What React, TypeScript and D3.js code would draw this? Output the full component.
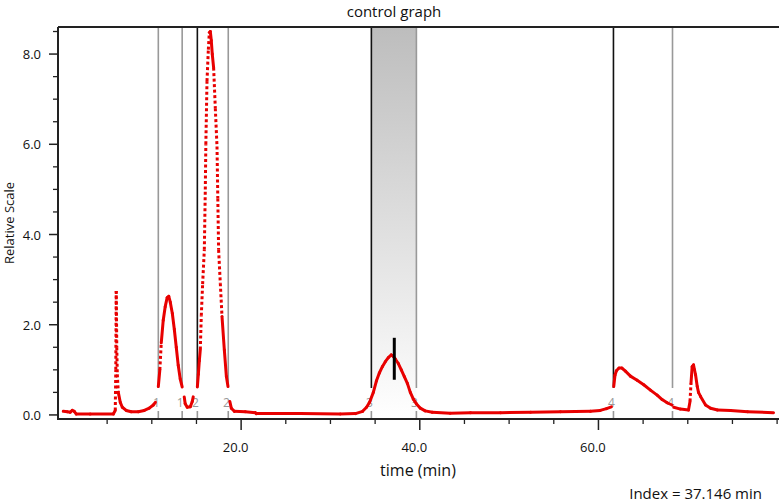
import React from "react";
import * as d3 from "d3";

const W = 779;
const H = 502;

// trace segments: [time (min), relative scale]
const SEG_A: [number, number][] = [
  [0.09, 0.08], [0.54, 0.07], [0.87, 0.06], [1.1, 0.1], [1.32, 0.08], [1.55, 0.02],
  [3.1, 0.02], [5.69, 0.02], [5.91, 0.1], [5.97, 1.0], [6.02, 2.75], [6.08, 1.5],
  [6.14, 0.9], [6.25, 0.5], [6.47, 0.28], [6.7, 0.17], [7.14, 0.1], [7.7, 0.07],
  [8.49, 0.07], [9.16, 0.1], [9.72, 0.15], [10.17, 0.22], [10.4, 0.28],
];
const SEG_B: [number, number][] = [
  [10.73, 0.63], [10.9, 1.0], [11.06, 1.6], [11.28, 2.1], [11.5, 2.4], [11.72, 2.6],
  [11.9, 2.63], [12.07, 2.5], [12.3, 2.25], [12.52, 1.9], [12.74, 1.5], [12.96, 1.1],
  [13.18, 0.8], [13.4, 0.62],
];
const SEG_C: [number, number][] = [
  [13.63, 0.4], [13.74, 0.25], [13.97, 0.17], [14.31, 0.18], [14.53, 0.3], [14.64, 0.4],
];
const SEG_D: [number, number][] = [
  [15.1, 0.62], [15.21, 0.9], [15.32, 1.2], [15.43, 1.45], [15.54, 2.2], [15.69, 2.9],
  [15.88, 3.66], [15.99, 5.0], [16.05, 6.0], [16.18, 7.4], [16.33, 8.1], [16.44, 8.48],
  [16.55, 8.5], [16.66, 8.3], [16.77, 8.0], [16.92, 7.7], [17.11, 6.8], [17.3, 5.95],
  [17.39, 4.8], [17.48, 3.66], [17.67, 2.92], [17.86, 2.18], [18.12, 1.44], [18.35, 0.85],
  [18.53, 0.63],
];
const SEG_E: [number, number][] = [
  [18.73, 0.3], [18.9, 0.15], [19.24, 0.08], [20.47, 0.07], [21.6, 0.05], [21.7, 0.03],
  [26.6, 0.03], [31.1, 0.02], [32.8, 0.03], [33.6, 0.08], [34.04, 0.17], [34.38, 0.28],
  [34.8, 0.5], [35.14, 0.75], [35.47, 0.93], [35.81, 1.07], [36.14, 1.18], [36.48, 1.27],
  [36.81, 1.33], [37.03, 1.3], [37.26, 1.24], [37.6, 1.14], [37.93, 1.0], [38.27, 0.85],
  [38.61, 0.7], [38.94, 0.5], [39.28, 0.35], [39.61, 0.25], [40.06, 0.15], [40.6, 0.09],
  [41.4, 0.06], [43.4, 0.04], [45.67, 0.05], [49.03, 0.05], [52.4, 0.06], [55.74, 0.07],
  [59.1, 0.08], [60.2, 0.1], [60.9, 0.14], [61.45, 0.18],
];
const SEG_G: [number, number][] = [
  [61.71, 0.63], [61.85, 0.88], [62.01, 0.98], [62.3, 1.04], [62.63, 1.04], [63.02, 0.97],
  [63.58, 0.86], [64.33, 0.77], [65.07, 0.67], [65.82, 0.55], [66.57, 0.44], [67.13, 0.34],
  [67.69, 0.27], [68.23, 0.22],
];
const SEG_H: [number, number][] = [
  [68.43, 0.17], [69.18, 0.13], [70.08, 0.11], [70.25, 0.3], [70.36, 0.7], [70.49, 1.07],
  [70.64, 1.11], [70.75, 1.0], [70.87, 0.89], [71.06, 0.63], [71.2, 0.5], [71.43, 0.41],
  [71.99, 0.22], [72.55, 0.15], [73.33, 0.11], [74.79, 0.1], [76.69, 0.07], [79.6, 0.05],
];
const SEGMENTS = [SEG_A, SEG_B, SEG_C, SEG_D, SEG_E, SEG_G, SEG_H];

const MARKER_TIMES = [10.73, 13.4, 15.1, 18.56, 34.58, 39.62, 61.68, 68.29];
const MARKER_LABELS = ["1", "1", "2", "2", "3", "3", "4", "4"];
const MARKER_DARK = [false, false, true, false, true, false, true, false];
const SHADE_FROM = 34.58;
const SHADE_TO = 39.62;

const INDEX_TIME = 37.146;
const INDEX_LOW = 0.78;
const INDEX_HIGH = 1.71;

const X_LABEL_TICKS = [20, 40, 60];
const X_MINOR_TICKS = [5, 10, 15, 25, 30, 35, 45, 50, 55, 65, 70, 75, 80];
const Y_LABEL_TICKS = [0, 2, 4, 6, 8];
const Y_MINOR_TICKS = [0.5, 1, 1.5, 2.5, 3, 3.5, 4.5, 5, 5.5, 6.5, 7, 7.5, 8.5];

const FONT = "'Open Sans', 'DejaVu Sans', sans-serif";
const RED = "#e80000";

export default function App() {
  const left = 58, right = 778, top = 27, bottom = 419;
  const x = d3.scaleLinear().domain([-0.5, 80.1]).range([left, right]);
  const y = d3.scaleLinear().domain([-0.09, 8.6]).range([bottom, top]);
  const fmt = d3.format(".1f");

  const pieces: JSX.Element[] = [];
  SEGMENTS.forEach((seg, si) => {
    for (let i = 1; i < seg.length; i++) {
      const x1 = x(seg[i - 1][0]), y1 = y(seg[i - 1][1]);
      const x2 = x(seg[i][0]), y2 = y(seg[i][1]);
      const steep = Math.abs(y2 - y1) > 15 * Math.abs(x2 - x1) && Math.abs(y2 - y1) > 6;
      pieces.push(
        <line
          key={`${si}-${i}`}
          x1={x1} y1={y1} x2={x2} y2={y2}
          stroke={RED}
          strokeWidth={3}
          strokeLinecap={steep ? "butt" : "round"}
          strokeDasharray={steep ? "3 2.5" : undefined}
        />
      );
    }
  });

  return (
    <svg
      width={W}
      height={H}
      style={{ position: "absolute", left: 0, top: 0, background: "#fff" }}
      fontFamily={FONT}
    >
      <defs>
        <linearGradient id="shade" x1="0" y1="0" x2="0" y2="1">
          <stop offset="0%" stopColor="#bdbdbd" />
          <stop offset="100%" stopColor="#ffffff" />
        </linearGradient>
      </defs>
      <rect width={W} height={H} fill="#fff" />
      <rect
        x={x(SHADE_FROM)}
        y={top}
        width={x(SHADE_TO) - x(SHADE_FROM)}
        height={bottom - top}
        fill="url(#shade)"
      />
      {MARKER_TIMES.map((t, i) => (
        <g key={`m${i}`}>
          <line
            x1={x(t)} x2={x(t)} y1={top} y2={388}
            stroke={MARKER_DARK[i] ? "#111" : "#999"}
            strokeWidth={1.6}
          />
          <line x1={x(t)} x2={x(t)} y1={411} y2={bottom} stroke="#999" strokeWidth={1.6} />
          <text
            x={x(t) + 1.5}
            y={407}
            fontSize={12}
            fill="#999"
            textAnchor="end"
          >
            {MARKER_LABELS[i]}
          </text>
        </g>
      ))}
      {pieces}
      <line
        x1={x(INDEX_TIME)} x2={x(INDEX_TIME)}
        y1={y(INDEX_LOW)} y2={y(INDEX_HIGH)}
        stroke="#000" strokeWidth={3}
      />
      {/* frame */}
      <line x1={left} x2={W} y1={top} y2={top} stroke="#222" strokeWidth={2} />
      <line x1={left} x2={left} y1={top} y2={bottom + 1} stroke="#222" strokeWidth={2} />
      <line x1={left} x2={W} y1={bottom} y2={bottom} stroke="#222" strokeWidth={2} />
      {/* y ticks */}
      {Y_MINOR_TICKS.map((v) => (
        <line key={`ym${v}`} x1={left - 5} x2={left} y1={y(v)} y2={y(v)} stroke="#222" strokeWidth={1.3} />
      ))}
      {Y_LABEL_TICKS.map((v) => (
        <g key={`yl${v}`}>
          <line x1={left - 9} x2={left} y1={y(v)} y2={y(v)} stroke="#222" strokeWidth={1.5} />
          <text x={41} y={y(v) + 5} fontSize={13} textAnchor="end" fill="#111">
            {fmt(v)}
          </text>
        </g>
      ))}
      {/* x ticks */}
      {X_MINOR_TICKS.map((t) => (
        <line key={`xm${t}`} x1={x(t)} x2={x(t)} y1={bottom} y2={bottom + 5} stroke="#222" strokeWidth={1.3} />
      ))}
      {X_LABEL_TICKS.map((t) => (
        <g key={`xl${t}`}>
          <line x1={x(t)} x2={x(t)} y1={bottom} y2={bottom + 11} stroke="#222" strokeWidth={1.5} />
          <text x={x(t) - 5.5} y={452} fontSize={13} textAnchor="middle" fill="#111">
            {fmt(t)}
          </text>
        </g>
      ))}
      <text x={394} y={17} fontSize={15} textAnchor="middle" fill="#111">
        control graph
      </text>
      <text x={418} y={476} fontSize={16} textAnchor="middle" fill="#111">
        time (min)
      </text>
      <text
        transform="translate(14,223) rotate(-90)"
        fontSize={13}
        textAnchor="middle"
        fill="#111"
      >
        Relative Scale
      </text>
      <text x={762} y={499} fontSize={15} textAnchor="end" fill="#111">
        Index = 37.146 min
      </text>
    </svg>
  );
}
